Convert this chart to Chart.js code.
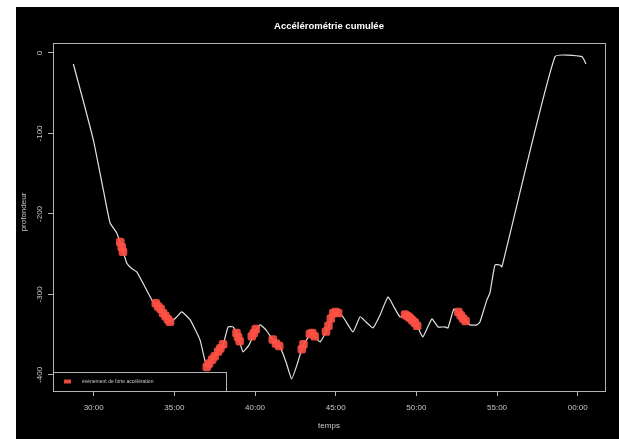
<!DOCTYPE html>
<html>
<head>
<meta charset="utf-8">
<script src="https://cdn.jsdelivr.net/npm/chart.js@4/dist/chart.umd.min.js"></script>
<style>
  html, body { margin: 0; padding: 0; background: #ffffff; }
  #wrap { position: absolute; left: 16px; top: 7px; width: 603px; height: 432px; background: #000; }
  canvas { display: block; }
</style>
</head>
<body>
<div id="wrap"><canvas id="c" width="603" height="432"></canvas></div>
<script>
// Dive profile: time in minutes, depth in metres (negative = below surface)
const times = [28.74, 29.34, 29.98, 30.60, 31.02, 31.43, 31.74, 32.05, 32.32, 32.67,
  33.18, 33.68, 33.93, 34.30, 34.73, 35.10, 35.46, 35.98, 36.59, 37.01,
  37.34, 37.71, 38.02, 38.33, 38.64, 38.95, 39.26, 39.63, 40.00, 40.31,
  40.68, 41.18, 41.55, 41.92, 42.27, 42.60, 42.97, 43.51, 43.78, 44.03,
  44.46, 44.96, 45.45, 46.07, 46.51, 46.88, 47.31, 47.75, 48.24, 48.61,
  48.98, 49.36, 49.73, 50.04, 50.40, 50.96, 51.34, 51.77, 51.96, 52.33,
  52.70, 53.07, 53.32, 53.75, 53.94, 54.37, 54.56, 54.87, 55.18, 55.30,
  58.59, 60.26, 60.51];
const depths = [-13.7, -58.4, -108.1, -170.2, -211.2, -223.6, -241.0, -260.9, -267.1, -272.0,
  -290.7, -309.3, -313.0, -323.0, -334.2, -329.0, -321.7, -331.7, -356.5, -390.1,
  -381.4, -371.4, -362.7, -340.4, -340.4, -352.8, -371.4, -362.7, -346.6, -337.9,
  -344.1, -359.0, -365.2, -383.9, -405.0, -387.6, -363.9, -347.8, -354.0, -359.0,
  -344.1, -321.7, -327.9, -346.6, -327.9, -334.2, -341.6, -325.5, -303.1, -315.5,
  -327.9, -326.6, -331.7, -339.1, -352.8, -330.4, -340.4, -340.4, -341.6, -318.0,
  -325.5, -332.9, -337.9, -337.9, -334.2, -306.8, -298.1, -263.4, -263.4, -265.8,
  -4.6, -4.6, -13.7];

// Strong-acceleration events
const eventTimes = [31.65, 31.74, 31.82,
  33.85, 34.00, 34.15, 34.30, 34.45, 34.60, 34.73,
  37.01, 37.15, 37.34, 37.50, 37.71, 37.85, 38.02,
  38.85, 38.95, 39.05,
  39.80, 39.93, 40.05,
  41.10, 41.30, 41.50,
  42.90, 43.00,
  43.40, 43.55, 43.70,
  44.40, 44.55, 44.70, 44.85, 45.00, 45.15,
  49.30, 49.45, 49.60, 49.75, 49.90, 50.05,
  52.60, 52.75, 52.90, 53.05];
const eventDepths = [-235, -241, -247,
  -311, -315, -318, -323, -327, -331, -334,
  -390, -386, -381, -377, -371, -367, -362,
  -348, -353, -358,
  -352, -348, -343,
  -356, -361, -364,
  -368, -362,
  -349, -348, -352,
  -346, -339, -330, -323, -322, -323,
  -325, -327, -329, -332, -335, -339,
  -322, -326, -330, -333];

const xTickValues = [30, 35, 40, 45, 50, 55, 60];
const yTickValues = [0, -100, -200, -300, -400];

const titleText = 'Accélérométrie cumulée';
const xLabel = 'temps';
const yLabel = 'profondeur';
const legendLabel = 'évènement de forte accélération';

const textColor = '#c8c8c8';
const axisColor = '#b4b4b4';
const eventColor = 'rgba(255, 80, 68, 0.9)';

const fmtTime = v => String(Math.round(v) % 60).padStart(2, '0') + ':00';

const decorations = {
  id: 'decorations',
  afterDraw(chart) {
    const ctx = chart.ctx;
    const a = chart.chartArea;
    ctx.save();
    // box around the plot region
    ctx.strokeStyle = axisColor;
    ctx.lineWidth = 1;
    ctx.strokeRect(Math.round(a.left) + 0.5, Math.round(a.top) + 0.5,
      Math.round(a.right - a.left), Math.round(a.bottom - a.top));

    // title
    ctx.fillStyle = '#ffffff';
    ctx.font = 'bold 9.5px "Liberation Sans", Arial, sans-serif';
    ctx.textAlign = 'center';
    ctx.textBaseline = 'middle';
    ctx.fillText(titleText, (a.left + a.right) / 2, 19);

    // y tick labels, rotated
    const ys = chart.scales.y;
    ctx.fillStyle = textColor;
    ctx.font = '8px "Liberation Sans", Arial, sans-serif';
    ys.ticks.forEach(t => {
      const py = ys.getPixelForValue(t.value);
      ctx.save();
      ctx.translate(24, py);
      ctx.rotate(-Math.PI / 2);
      ctx.fillText(ys.options.ticks.callback(t.value), 0, 0);
      ctx.restore();
    });

    // axis titles
    ctx.fillText(xLabel, (a.left + a.right) / 2, 419);
    ctx.save();
    ctx.translate(8, (a.top + a.bottom) / 2 - 5);
    ctx.rotate(-Math.PI / 2);
    ctx.fillText(yLabel, 0, 0);
    ctx.restore();

    // legend
    const lx = Math.round(a.left) + 0.5, ly = 365.5, lw = 173, lh = Math.round(a.bottom) - 365;
    ctx.fillStyle = '#000';
    ctx.fillRect(lx, ly, lw, lh);
    ctx.strokeStyle = axisColor;
    ctx.strokeRect(lx, ly, lw, lh);
    ctx.fillStyle = eventColor;
    ctx.fillRect(48, 372.5, 7, 4);
    ctx.fillStyle = textColor;
    ctx.font = '5px "Liberation Sans", Arial, sans-serif';
    ctx.textAlign = 'left';
    ctx.fillText(legendLabel, 66, 375);
    ctx.restore();
  }
};

new Chart(document.getElementById('c'), {
  type: 'line',
  data: {
    datasets: [
      {
        label: legendLabel,
        type: 'scatter',
        data: eventTimes.map((t, i) => ({ x: t, y: eventDepths[i] })),
        pointStyle: 'rectRounded',
        pointRadius: 5,
        backgroundColor: eventColor,
        borderColor: eventColor,
        borderWidth: 0,
        showLine: false,
        order: 0
      },
      {
        label: 'profondeur',
        data: times.map((t, i) => ({ x: t, y: depths[i] })),
        borderColor: '#e2e2e2',
        borderWidth: 1.2,
        pointRadius: 0,
        tension: 0.14,
        fill: false,
        order: 1
      }
    ]
  },
  options: {
    responsive: false,
    animation: false,
    devicePixelRatio: 1,
    layout: { padding: { left: 0, top: 36, right: 14, bottom: 0 } },
    plugins: {
      legend: { display: false },
      title: { display: false },
      tooltip: { enabled: false }
    },
    scales: {
      x: {
        type: 'linear',
        min: 27.48,
        max: 61.69,
        afterFit: s => { s.height = 48; },
        afterBuildTicks: s => { s.ticks = xTickValues.map(v => ({ value: v })); },
        border: { display: false },
        grid: { drawOnChartArea: false, drawTicks: true, tickLength: 5, color: axisColor },
        ticks: {
          includeBounds: false,
          maxRotation: 0,
          autoSkip: false,
          padding: 7,
          color: textColor,
          font: { family: '"Liberation Sans", Arial, sans-serif', size: 8 },
          callback: v => fmtTime(v)
        }
      },
      y: {
        type: 'linear',
        min: -420,
        max: 12.4,
        afterFit: s => { s.width = 37; },
        afterBuildTicks: s => { s.ticks = yTickValues.map(v => ({ value: v })); },
        border: { display: false },
        grid: { drawOnChartArea: false, drawTicks: true, tickLength: 5, color: axisColor },
        ticks: {
          display: false,
          includeBounds: false,
          callback: v => String(v)
        }
      }
    }
  },
  plugins: [decorations]
});
</script>
</body>
</html>
